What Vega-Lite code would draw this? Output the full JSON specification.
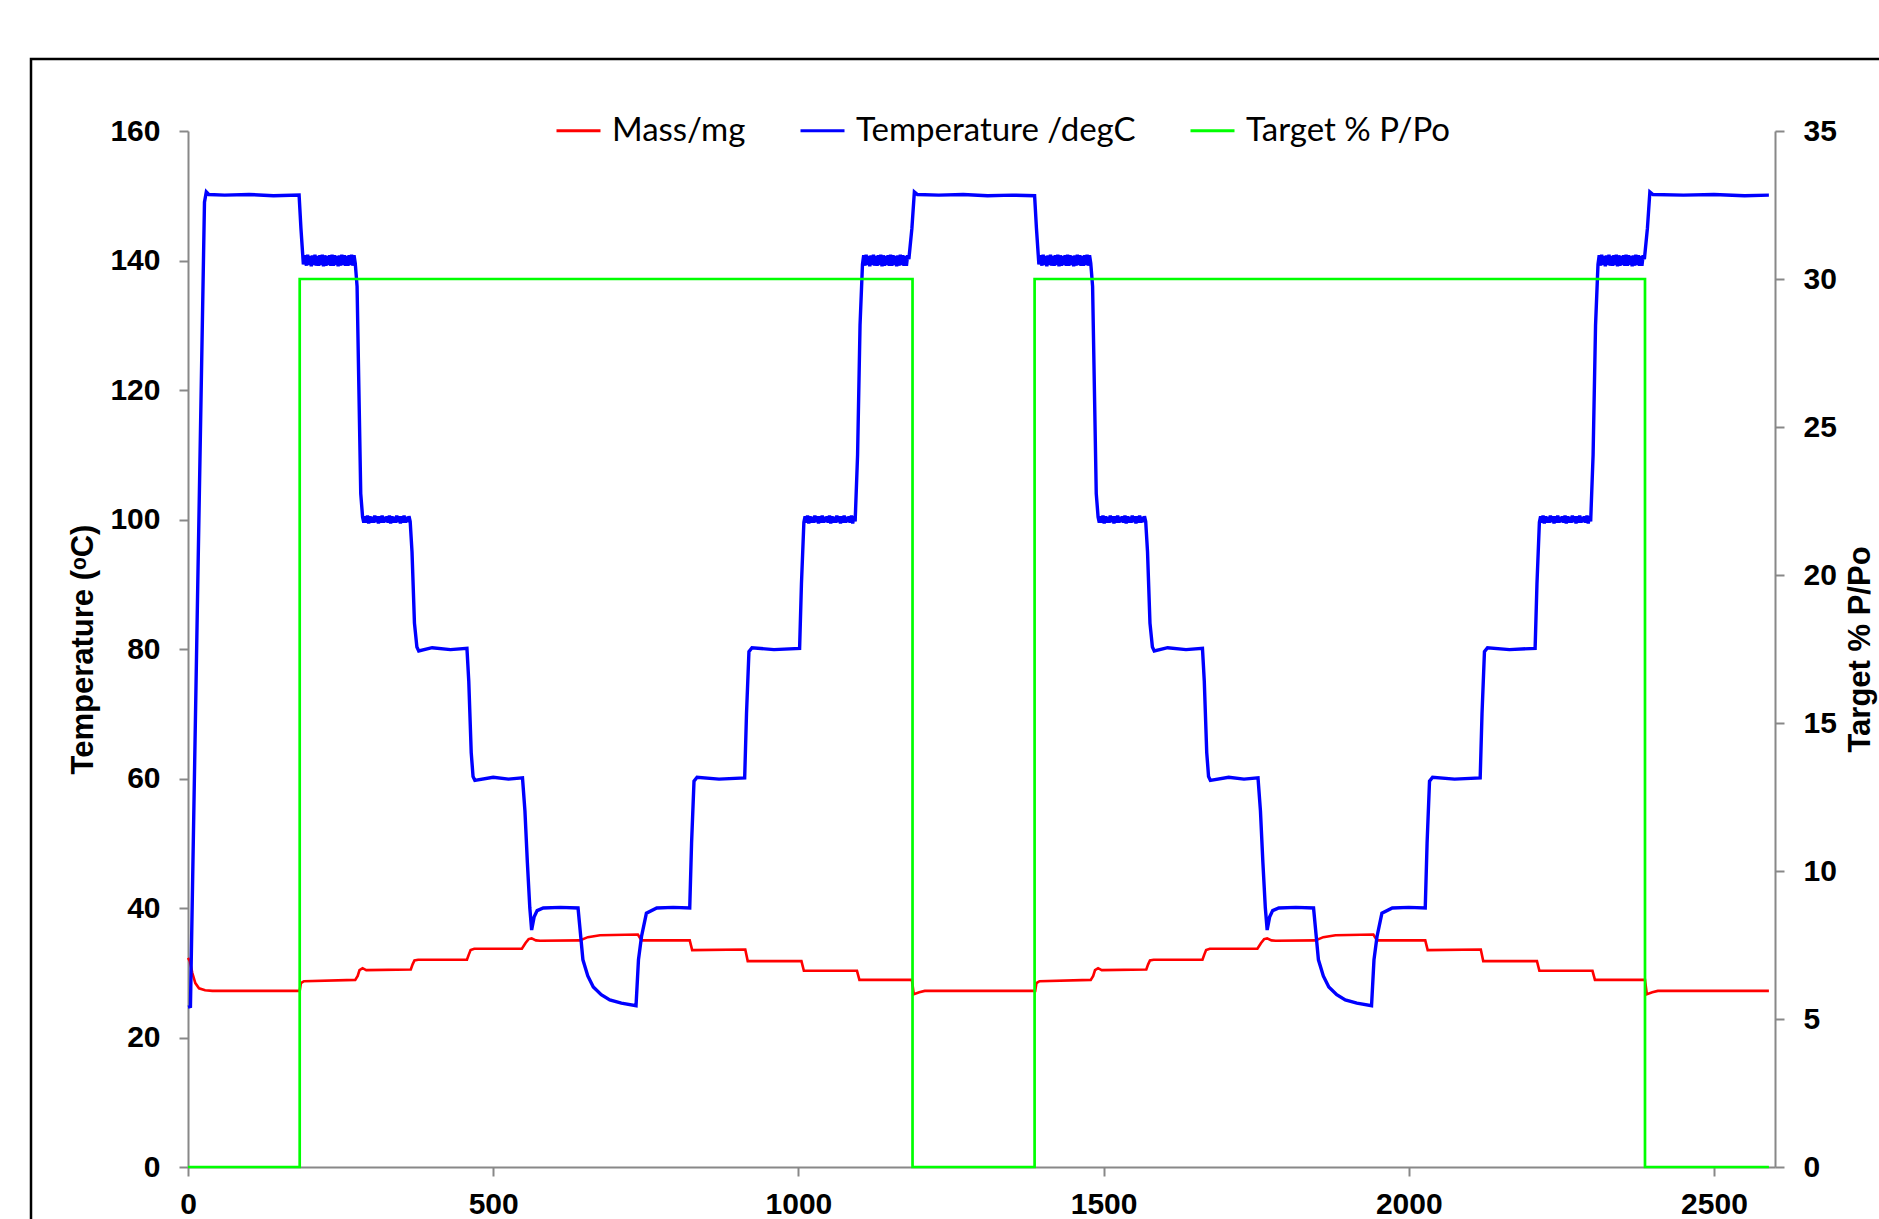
{
  "$schema": "https://vega.github.io/schema/vega-lite/v6.json",
  "width": 1852,
  "height": 1164,
  "autosize": {"type": "none"},
  "padding": {"left": 31, "top": 59, "right": -4, "bottom": -4},
  "background": "white",
  "config": {
    "view": {"stroke": "black", "strokeWidth": 2.5},
    "font": "Liberation Sans",
    "legend": {
      "orient": "none",
      "legendX": 524,
      "legendY": 48,
      "direction": "horizontal",
      "symbolType": "stroke",
      "symbolSize": 1936,
      "symbolStrokeWidth": 3,
      "labelFont": "Lato",
      "labelFontSize": 33,
      "labelColor": "black",
      "labelLimit": 600,
      "labelOffset": 10,
      "columnPadding": 48,
      "padding": 0
    }
  },
  "datasets": {
    "temperature": [
      {"t":0,"v":24.7},{"t":4,"v":24.8},{"t":16,"v":90},{"t":27,"v":149},{"t":30,"v":150.6},{"t":34,"v":150.2},{"t":60,"v":150.1},{"t":100,"v":150.2},{"t":140,"v":150},{"t":182,"v":150.1},
      {"t":185,"v":145},{"t":189,"v":139.4},
      {"t":192,"v":140.8},{"t":194,"v":139.2},{"t":196,"v":140.9},{"t":198,"v":139.3},{"t":200,"v":140.7},{"t":202,"v":139.1},{"t":204,"v":140.8},{"t":206,"v":139.3},{"t":208,"v":140.9},{"t":210,"v":139.2},{"t":212,"v":140.7},{"t":214,"v":139.2},{"t":216,"v":140.8},{"t":218,"v":139.3},{"t":220,"v":140.9},{"t":222,"v":139.1},{"t":224,"v":140.8},{"t":226,"v":139.2},{"t":228,"v":140.7},{"t":230,"v":139.3},{"t":232,"v":140.8},{"t":234,"v":139.2},{"t":236,"v":140.9},{"t":238,"v":139.2},{"t":240,"v":140.8},{"t":242,"v":139.3},{"t":244,"v":140.7},{"t":246,"v":139.1},{"t":248,"v":140.8},{"t":250,"v":139.2},{"t":252,"v":140.9},{"t":254,"v":139.3},{"t":256,"v":140.8},{"t":258,"v":139.2},{"t":260,"v":140.7},{"t":262,"v":139.2},{"t":264,"v":140.8},{"t":266,"v":139.3},{"t":268,"v":140.9},{"t":270,"v":139.2},{"t":272,"v":140.8},{"t":274,"v":139.6},
      {"t":277,"v":136},{"t":280,"v":120},{"t":283,"v":104},{"t":286,"v":100.4},{"t":288,"v":99.5},
      {"t":290,"v":100.5},{"t":292,"v":99.5},{"t":294,"v":100.6},{"t":296,"v":99.4},{"t":298,"v":100.5},{"t":300,"v":99.5},{"t":302,"v":100.4},{"t":304,"v":99.5},{"t":306,"v":100.6},{"t":308,"v":99.6},{"t":310,"v":100.5},{"t":312,"v":99.4},{"t":314,"v":100.5},{"t":316,"v":99.5},{"t":318,"v":100.6},{"t":320,"v":99.5},{"t":322,"v":100.4},{"t":324,"v":99.6},{"t":326,"v":100.5},{"t":328,"v":99.5},{"t":330,"v":100.6},{"t":332,"v":99.4},{"t":334,"v":100.5},{"t":336,"v":99.5},{"t":338,"v":100.4},{"t":340,"v":99.5},{"t":342,"v":100.6},{"t":344,"v":99.6},{"t":346,"v":100.5},{"t":348,"v":99.4},{"t":350,"v":100.5},{"t":352,"v":99.5},{"t":354,"v":100.6},{"t":356,"v":99.5},{"t":358,"v":100.4},{"t":360,"v":99.6},{"t":362,"v":100.5},{"t":364,"v":99.7},
      {"t":367,"v":95},{"t":371,"v":84},{"t":375,"v":80.3},{"t":378,"v":79.7},{"t":400,"v":80.2},{"t":430,"v":79.9},{"t":457,"v":80.1},
      {"t":460,"v":75},{"t":464,"v":64},{"t":467,"v":60.3},{"t":470,"v":59.7},{"t":500,"v":60.2},{"t":525,"v":59.9},{"t":548,"v":60.1},
      {"t":552,"v":55},{"t":556,"v":47},{"t":560,"v":40},{"t":563,"v":36.6},{"t":567,"v":38.6},{"t":572,"v":39.6},{"t":582,"v":40},{"t":610,"v":40.1},{"t":639,"v":40},
      {"t":643,"v":36},{"t":647,"v":32},{"t":655,"v":29.5},{"t":664,"v":27.8},{"t":677,"v":26.6},{"t":691,"v":25.8},{"t":710,"v":25.3},{"t":734,"v":24.9},
      {"t":738,"v":32},{"t":743,"v":35.6},{"t":751,"v":39.2},{"t":768,"v":40},{"t":795,"v":40.1},{"t":822,"v":40},
      {"t":825,"v":50},{"t":829,"v":59.6},{"t":834,"v":60.2},{"t":870,"v":59.9},{"t":912,"v":60.1},
      {"t":915,"v":70},{"t":919,"v":79.6},{"t":924,"v":80.2},{"t":960,"v":79.9},{"t":1002,"v":80.1},
      {"t":1005,"v":90},{"t":1009,"v":99.6},
      {"t":1011,"v":100.5},{"t":1013,"v":99.5},{"t":1015,"v":100.6},{"t":1017,"v":99.4},{"t":1019,"v":100.5},{"t":1021,"v":99.5},{"t":1023,"v":100.4},{"t":1025,"v":99.5},{"t":1027,"v":100.6},{"t":1029,"v":99.6},{"t":1031,"v":100.5},{"t":1033,"v":99.4},{"t":1035,"v":100.5},{"t":1037,"v":99.5},{"t":1039,"v":100.6},{"t":1041,"v":99.5},{"t":1043,"v":100.4},{"t":1045,"v":99.6},{"t":1047,"v":100.5},{"t":1049,"v":99.5},{"t":1051,"v":100.6},{"t":1053,"v":99.4},{"t":1055,"v":100.5},{"t":1057,"v":99.5},{"t":1059,"v":100.4},{"t":1061,"v":99.5},{"t":1063,"v":100.6},{"t":1065,"v":99.6},{"t":1067,"v":100.5},{"t":1069,"v":99.4},{"t":1071,"v":100.5},{"t":1073,"v":99.5},{"t":1075,"v":100.6},{"t":1077,"v":99.5},{"t":1079,"v":100.4},{"t":1081,"v":99.6},{"t":1083,"v":100.5},{"t":1085,"v":99.5},{"t":1087,"v":100.6},{"t":1089,"v":99.4},{"t":1091,"v":100.5},{"t":1093,"v":99.7},
      {"t":1097,"v":110},{"t":1101,"v":130},{"t":1105,"v":139.4},
      {"t":1107,"v":140.8},{"t":1109,"v":139.2},{"t":1111,"v":140.9},{"t":1113,"v":139.3},{"t":1115,"v":140.7},{"t":1117,"v":139.1},{"t":1119,"v":140.8},{"t":1121,"v":139.3},{"t":1123,"v":140.9},{"t":1125,"v":139.2},{"t":1127,"v":140.7},{"t":1129,"v":139.2},{"t":1131,"v":140.8},{"t":1133,"v":139.3},{"t":1135,"v":140.9},{"t":1137,"v":139.1},{"t":1139,"v":140.8},{"t":1141,"v":139.2},{"t":1143,"v":140.7},{"t":1145,"v":139.3},{"t":1147,"v":140.8},{"t":1149,"v":139.2},{"t":1151,"v":140.9},{"t":1153,"v":139.2},{"t":1155,"v":140.8},{"t":1157,"v":139.3},{"t":1159,"v":140.7},{"t":1161,"v":139.1},{"t":1163,"v":140.8},{"t":1165,"v":139.2},{"t":1167,"v":140.9},{"t":1169,"v":139.3},{"t":1171,"v":140.8},{"t":1173,"v":139.2},{"t":1175,"v":140.7},{"t":1177,"v":139.2},{"t":1179,"v":140.8},{"t":1181,"v":140.2},
      {"t":1186,"v":145},{"t":1190,"v":150.6},{"t":1195,"v":150.2},{"t":1230,"v":150.1},{"t":1270,"v":150.2},{"t":1310,"v":150},{"t":1350,"v":150.1},{"t":1387,"v":150},
      {"t":1390,"v":145},{"t":1394,"v":139.4},
      {"t":1397,"v":140.8},{"t":1399,"v":139.2},{"t":1401,"v":140.9},{"t":1403,"v":139.3},{"t":1405,"v":140.7},{"t":1407,"v":139.1},{"t":1409,"v":140.8},{"t":1411,"v":139.3},{"t":1413,"v":140.9},{"t":1415,"v":139.2},{"t":1417,"v":140.7},{"t":1419,"v":139.2},{"t":1421,"v":140.8},{"t":1423,"v":139.3},{"t":1425,"v":140.9},{"t":1427,"v":139.1},{"t":1429,"v":140.8},{"t":1431,"v":139.2},{"t":1433,"v":140.7},{"t":1435,"v":139.3},{"t":1437,"v":140.8},{"t":1439,"v":139.2},{"t":1441,"v":140.9},{"t":1443,"v":139.2},{"t":1445,"v":140.8},{"t":1447,"v":139.3},{"t":1449,"v":140.7},{"t":1451,"v":139.1},{"t":1453,"v":140.8},{"t":1455,"v":139.2},{"t":1457,"v":140.9},{"t":1459,"v":139.3},{"t":1461,"v":140.8},{"t":1463,"v":139.2},{"t":1465,"v":140.7},{"t":1467,"v":139.2},{"t":1469,"v":140.8},{"t":1471,"v":139.3},{"t":1473,"v":140.9},{"t":1475,"v":139.2},{"t":1477,"v":140.8},{"t":1479,"v":139.6},
      {"t":1482,"v":136},{"t":1485,"v":120},{"t":1488,"v":104},{"t":1491,"v":100.4},{"t":1493,"v":99.5},
      {"t":1495,"v":100.5},{"t":1497,"v":99.5},{"t":1499,"v":100.6},{"t":1501,"v":99.4},{"t":1503,"v":100.5},{"t":1505,"v":99.5},{"t":1507,"v":100.4},{"t":1509,"v":99.5},{"t":1511,"v":100.6},{"t":1513,"v":99.6},{"t":1515,"v":100.5},{"t":1517,"v":99.4},{"t":1519,"v":100.5},{"t":1521,"v":99.5},{"t":1523,"v":100.6},{"t":1525,"v":99.5},{"t":1527,"v":100.4},{"t":1529,"v":99.6},{"t":1531,"v":100.5},{"t":1533,"v":99.5},{"t":1535,"v":100.6},{"t":1537,"v":99.4},{"t":1539,"v":100.5},{"t":1541,"v":99.5},{"t":1543,"v":100.4},{"t":1545,"v":99.5},{"t":1547,"v":100.6},{"t":1549,"v":99.6},{"t":1551,"v":100.5},{"t":1553,"v":99.4},{"t":1555,"v":100.5},{"t":1557,"v":99.5},{"t":1559,"v":100.6},{"t":1561,"v":99.5},{"t":1563,"v":100.4},{"t":1565,"v":99.6},{"t":1567,"v":100.5},{"t":1569,"v":99.7},
      {"t":1572,"v":95},{"t":1576,"v":84},{"t":1580,"v":80.3},{"t":1583,"v":79.7},{"t":1605,"v":80.2},{"t":1635,"v":79.9},{"t":1662,"v":80.1},
      {"t":1665,"v":75},{"t":1669,"v":64},{"t":1672,"v":60.3},{"t":1675,"v":59.7},{"t":1705,"v":60.2},{"t":1730,"v":59.9},{"t":1753,"v":60.1},
      {"t":1757,"v":55},{"t":1761,"v":47},{"t":1765,"v":40},{"t":1768,"v":36.6},{"t":1772,"v":38.6},{"t":1777,"v":39.6},{"t":1787,"v":40},{"t":1815,"v":40.1},{"t":1844,"v":40},
      {"t":1848,"v":36},{"t":1852,"v":32},{"t":1860,"v":29.5},{"t":1869,"v":27.8},{"t":1882,"v":26.6},{"t":1896,"v":25.8},{"t":1915,"v":25.3},{"t":1939,"v":24.9},
      {"t":1943,"v":32},{"t":1948,"v":35.6},{"t":1956,"v":39.2},{"t":1973,"v":40},{"t":2000,"v":40.1},{"t":2027,"v":40},
      {"t":2030,"v":50},{"t":2034,"v":59.6},{"t":2039,"v":60.2},{"t":2075,"v":59.9},{"t":2117,"v":60.1},
      {"t":2120,"v":70},{"t":2124,"v":79.6},{"t":2129,"v":80.2},{"t":2165,"v":79.9},{"t":2207,"v":80.1},
      {"t":2210,"v":90},{"t":2214,"v":99.6},
      {"t":2216,"v":100.5},{"t":2218,"v":99.5},{"t":2220,"v":100.6},{"t":2222,"v":99.4},{"t":2224,"v":100.5},{"t":2226,"v":99.5},{"t":2228,"v":100.4},{"t":2230,"v":99.5},{"t":2232,"v":100.6},{"t":2234,"v":99.6},{"t":2236,"v":100.5},{"t":2238,"v":99.4},{"t":2240,"v":100.5},{"t":2242,"v":99.5},{"t":2244,"v":100.6},{"t":2246,"v":99.5},{"t":2248,"v":100.4},{"t":2250,"v":99.6},{"t":2252,"v":100.5},{"t":2254,"v":99.5},{"t":2256,"v":100.6},{"t":2258,"v":99.4},{"t":2260,"v":100.5},{"t":2262,"v":99.5},{"t":2264,"v":100.4},{"t":2266,"v":99.5},{"t":2268,"v":100.6},{"t":2270,"v":99.6},{"t":2272,"v":100.5},{"t":2274,"v":99.4},{"t":2276,"v":100.5},{"t":2278,"v":99.5},{"t":2280,"v":100.6},{"t":2282,"v":99.5},{"t":2284,"v":100.4},{"t":2286,"v":99.6},{"t":2288,"v":100.5},{"t":2290,"v":99.5},{"t":2292,"v":100.6},{"t":2294,"v":99.4},{"t":2296,"v":100.5},{"t":2298,"v":99.7},
      {"t":2302,"v":110},{"t":2306,"v":130},{"t":2310,"v":139.4},
      {"t":2312,"v":140.8},{"t":2314,"v":139.2},{"t":2316,"v":140.9},{"t":2318,"v":139.3},{"t":2320,"v":140.7},{"t":2322,"v":139.1},{"t":2324,"v":140.8},{"t":2326,"v":139.3},{"t":2328,"v":140.9},{"t":2330,"v":139.2},{"t":2332,"v":140.7},{"t":2334,"v":139.2},{"t":2336,"v":140.8},{"t":2338,"v":139.3},{"t":2340,"v":140.9},{"t":2342,"v":139.1},{"t":2344,"v":140.8},{"t":2346,"v":139.2},{"t":2348,"v":140.7},{"t":2350,"v":139.3},{"t":2352,"v":140.8},{"t":2354,"v":139.2},{"t":2356,"v":140.9},{"t":2358,"v":139.2},{"t":2360,"v":140.8},{"t":2362,"v":139.3},{"t":2364,"v":140.7},{"t":2366,"v":139.1},{"t":2368,"v":140.8},{"t":2370,"v":139.2},{"t":2372,"v":140.9},{"t":2374,"v":139.3},{"t":2376,"v":140.8},{"t":2378,"v":139.2},{"t":2380,"v":140.7},{"t":2382,"v":139.2},{"t":2384,"v":140.8},{"t":2386,"v":140.2},
      {"t":2391,"v":145},{"t":2395,"v":150.6},{"t":2400,"v":150.2},{"t":2450,"v":150.1},{"t":2500,"v":150.2},{"t":2550,"v":150},{"t":2590,"v":150.1}
    ],
    "mass": [
      {"t":0,"v":32.3},{"t":3,"v":31.8},{"t":7,"v":30},{"t":12,"v":28.4},{"t":18,"v":27.6},{"t":28,"v":27.3},{"t":40,"v":27.2},{"t":183,"v":27.2},
      {"t":185,"v":28.4},{"t":190,"v":28.7},{"t":274,"v":28.9},{"t":278,"v":29.5},{"t":281,"v":30.4},{"t":286,"v":30.7},{"t":292,"v":30.4},{"t":365,"v":30.5},
      {"t":368,"v":31.3},{"t":371,"v":31.9},{"t":377,"v":32.0},{"t":457,"v":32.0},{"t":460,"v":32.8},{"t":463,"v":33.5},{"t":469,"v":33.7},{"t":547,"v":33.7},
      {"t":553,"v":34.6},{"t":558,"v":35.2},{"t":563,"v":35.3},{"t":570,"v":35.0},{"t":577,"v":34.95},{"t":642,"v":35.0},{"t":655,"v":35.5},{"t":675,"v":35.8},{"t":737,"v":35.9},
      {"t":743,"v":35.0},{"t":822,"v":35.0},{"t":826,"v":33.5},{"t":913,"v":33.6},{"t":917,"v":31.8},{"t":1005,"v":31.8},{"t":1009,"v":30.3},{"t":1096,"v":30.3},
      {"t":1100,"v":28.9},{"t":1186,"v":28.9},{"t":1189,"v":26.7},{"t":1198,"v":27.0},{"t":1207,"v":27.2},{"t":1388,"v":27.2},
      {"t":1390,"v":28.4},{"t":1395,"v":28.7},{"t":1479,"v":28.9},{"t":1483,"v":29.5},{"t":1486,"v":30.4},{"t":1491,"v":30.7},{"t":1497,"v":30.4},{"t":1570,"v":30.5},
      {"t":1573,"v":31.3},{"t":1576,"v":31.9},{"t":1582,"v":32.0},{"t":1662,"v":32.0},{"t":1665,"v":32.8},{"t":1668,"v":33.5},{"t":1674,"v":33.7},{"t":1752,"v":33.7},
      {"t":1758,"v":34.6},{"t":1763,"v":35.2},{"t":1768,"v":35.3},{"t":1775,"v":35.0},{"t":1782,"v":34.95},{"t":1847,"v":35.0},{"t":1860,"v":35.5},{"t":1880,"v":35.8},{"t":1942,"v":35.9},
      {"t":1948,"v":35.0},{"t":2027,"v":35.0},{"t":2031,"v":33.5},{"t":2118,"v":33.6},{"t":2122,"v":31.8},{"t":2210,"v":31.8},{"t":2214,"v":30.3},{"t":2301,"v":30.3},
      {"t":2305,"v":28.9},{"t":2387,"v":28.9},{"t":2390,"v":26.7},{"t":2399,"v":27.0},{"t":2408,"v":27.2},{"t":2590,"v":27.2}
    ],
    "target": [
      {"t":0,"v":0},{"t":183,"v":0},{"t":183,"v":30},{"t":1187,"v":30},{"t":1187,"v":0},{"t":1387,"v":0},{"t":1387,"v":30},{"t":2387,"v":30},{"t":2387,"v":0},{"t":2590,"v":0}
    ]
  },
  "encoding": {
    "x": {
      "field": "t",
      "type": "quantitative",
      "scale": {"domain": [0, 2600], "range": [157, 1744], "nice": false, "zero": false},
      "axis": {
        "values": [0, 500, 1000, 1500, 2000, 2500],
        "format": "d",
        "title": null,
        "offset": -56,
        "grid": false,
        "domainColor": "#888888",
        "domainWidth": 2,
        "tickColor": "#888888",
        "tickWidth": 2,
        "tickSize": 9,
        "labelFont": "Liberation Sans",
        "labelFontWeight": "bold",
        "labelFontSize": 30,
        "labelColor": "black",
        "labelPadding": 13,
        "labelFlush": false
      }
    }
  },
  "layer": [
    {
      "encoding": {
        "y": {
          "field": "v",
          "type": "quantitative",
          "scale": {"domain": [0, 160], "range": [1108, 72], "nice": false},
          "axis": {
            "values": [0, 20, 40, 60, 80, 100, 120, 140, 160],
            "title": "Temperature (ᵒC)",
            "offset": -157,
            "titleFont": "Liberation Sans",
            "titleFontSize": 31,
            "titleFontWeight": "bold",
            "titleColor": "black",
            "titlePadding": 10,
            "grid": false,
            "domainColor": "#888888",
            "domainWidth": 2,
            "tickColor": "#888888",
            "tickWidth": 2,
            "tickSize": 9,
            "labelFont": "Liberation Sans",
            "labelFontWeight": "bold",
            "labelFontSize": 30,
            "labelColor": "black",
            "labelPadding": 19
          }
        }
      },
      "layer": [
        {
          "data": {"name": "mass"},
          "mark": {"type": "line", "strokeWidth": 2.6, "interpolate": "linear"},
          "encoding": {
            "color": {
              "datum": "Mass/mg",
              "scale": {"domain": ["Mass/mg", "Temperature /degC", "Target % P/Po"], "range": ["#ff0000", "#0000ff", "#00ff00"]},
              "legend": {"title": null}
            },
            "order": {"value": null}
          }
        },
        {
          "data": {"name": "temperature"},
          "mark": {"type": "line", "strokeWidth": 3.4, "interpolate": "linear"},
          "encoding": {
            "color": {
              "datum": "Temperature /degC",
              "scale": {"domain": ["Mass/mg", "Temperature /degC", "Target % P/Po"], "range": ["#ff0000", "#0000ff", "#00ff00"]},
              "legend": {"title": null}
            },
            "order": {"value": null}
          }
        }
      ]
    },
    {
      "data": {"name": "target"},
      "mark": {"type": "line", "strokeWidth": 2.7, "interpolate": "linear"},
      "encoding": {
        "y": {
          "field": "v",
          "type": "quantitative",
          "scale": {"domain": [0, 35], "range": [1108, 72], "nice": false},
          "axis": {
            "orient": "right",
            "offset": -108,
            "values": [0, 5, 10, 15, 20, 25, 30, 35],
            "title": "Target % P/Po",
            "titleAngle": 270,
            "titleBaseline": "top",
            "titleFont": "Liberation Sans",
            "titleFontSize": 31,
            "titleFontWeight": "bold",
            "titleColor": "black",
            "titlePadding": 9,
            "grid": false,
            "domainColor": "#888888",
            "domainWidth": 2,
            "tickColor": "#888888",
            "tickWidth": 2,
            "tickSize": 9,
            "labelFont": "Liberation Sans",
            "labelFontWeight": "bold",
            "labelFontSize": 30,
            "labelColor": "black",
            "labelPadding": 19
          }
        },
        "color": {
          "datum": "Target % P/Po",
          "scale": {"domain": ["Mass/mg", "Temperature /degC", "Target % P/Po"], "range": ["#ff0000", "#0000ff", "#00ff00"]},
          "legend": {"title": null}
        },
        "order": {"value": null}
      }
    }
  ],
  "resolve": {"scale": {"y": "independent"}}
}
